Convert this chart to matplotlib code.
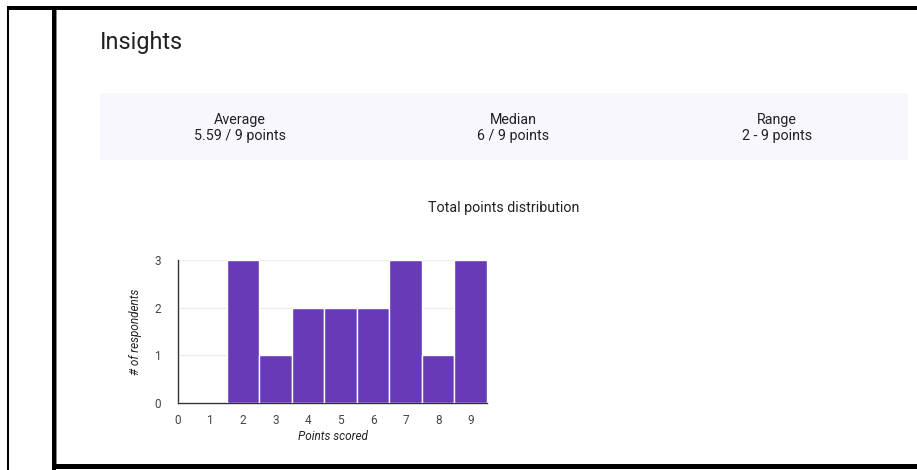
import matplotlib
matplotlib.use("Agg")
import matplotlib.pyplot as plt
from matplotlib.patches import Rectangle

plt.rcParams['font.family'] = ['Roboto', 'DejaVu Sans']

# Data
points = [0, 1, 2, 3, 4, 5, 6, 7, 8, 9]
respondents = [0, 0, 3, 1, 2, 2, 2, 3, 1, 3]
stat_labels = ["Average", "Median", "Range"]
stat_values = ["5.59 / 9 points", "6 / 9 points", "2 - 9 points"]
y_ticks = [0, 1, 2, 3]

W, H = 917, 470
fig = plt.figure(figsize=(W / 100, H / 100), dpi=100)
fig.patch.set_facecolor("white")

# Overlay axes in pixel coordinates for page decorations
bg = fig.add_axes([0, 0, 1, 1])
bg.set_xlim(0, W)
bg.set_ylim(H, 0)
bg.axis("off")

# Frame lines
bg.add_patch(Rectangle((7, 6), W - 7, 4, color="black", lw=0))        # top
bg.add_patch(Rectangle((7, 6), 2, H - 6, color="black", lw=0))        # thin left
bg.add_patch(Rectangle((52, 6), 4, H - 6, color="black", lw=0))       # thick left
bg.add_patch(Rectangle((56, 10), 1, H - 16, color="#888888", lw=0))   # inner gray edge
bg.add_patch(Rectangle((52, 464), W - 52, 5, color="black", lw=0))    # bottom

# Title
bg.text(100, 43, "Insights", fontsize=16.8, color="#202124", va="center", ha="left")

# Stats panel
bg.add_patch(Rectangle((100, 93), 808, 67, color="#f8f7fc", lw=0))
stat_x = [240, 513, 777]
for x, lab, val in zip(stat_x, stat_labels, stat_values):
    bg.text(x, 120, lab, fontsize=10.3, color="#202124", ha="center", va="center")
    bg.text(x, 136, val, fontsize=10.3, color="#202124", ha="center", va="center")

# Chart title
bg.text(504, 208, "Total points distribution", fontsize=10.3, color="#202124",
        ha="center", va="center")

# Histogram axes: x from 178 to 487 px, y from 260 (3) to 403 (0)
left, right, top, bottom = 178, 487, 260, 403
ax = fig.add_axes([left / W, 1 - bottom / H, (right - left) / W, (bottom - top) / H])
ax.bar(points, respondents, width=1.0, color="#673ab7", edgecolor="white",
       linewidth=1.0, zorder=3)
ax.set_xlim(0, 9.5)
ax.set_ylim(0, 3)
ax.set_xticks(points)
ax.set_yticks(y_ticks)
ax.tick_params(axis="x", length=0, labelsize=8.5, colors="#444444", pad=8)
ax.tick_params(axis="y", length=0, labelsize=8.5, colors="#444444", pad=12)
for s in ["top", "right"]:
    ax.spines[s].set_visible(False)
ax.spines["left"].set_color("#333333")
ax.spines["bottom"].set_color("#333333")
ax.spines["left"].set_linewidth(1)
ax.spines["bottom"].set_linewidth(1)
ax.grid(axis="y", color="#eeeeee", linewidth=1, zorder=0)
ax.set_axisbelow(True)
ax.set_xlabel("Points scored", fontsize=8.5, style="italic", color="#222222", labelpad=2)
ax.set_ylabel("# of respondents", fontsize=8.5, style="italic", color="#222222", labelpad=9)

fig.savefig("out.png", dpi=100, facecolor="white")
